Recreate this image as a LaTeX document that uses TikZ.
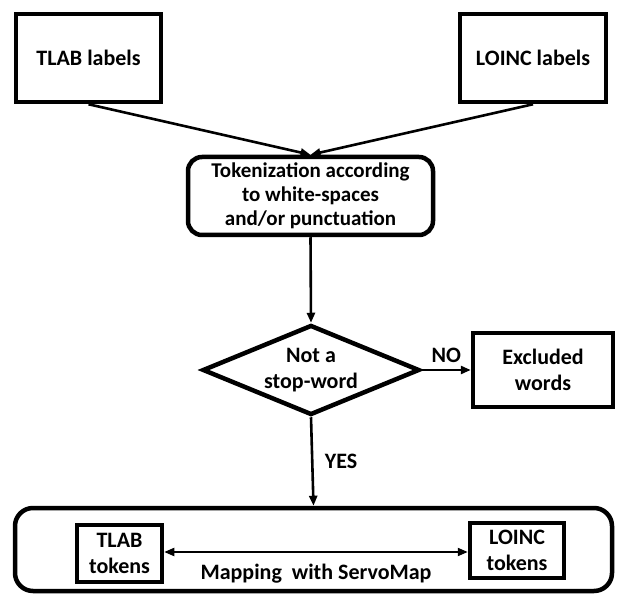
\documentclass[tikz,border=0pt]{standalone}
\usepackage{fontspec}
\setmainfont{Carlito}
\usetikzlibrary{shapes.geometric}
\usetikzlibrary{arrows.meta}
\usetikzlibrary{positioning}

\begin{document}
\begin{tikzpicture}[x=1pt, y=-1pt,
        font=\fontsize{22}{25.5}\selectfont\bfseries,
        box/.style={draw, line width=4.5pt, align=center, inner sep=0pt},
        roundbox/.style={box, rounded corners=14pt},
        decision/.style={draw, diamond, line width=4.5pt, align=center, inner sep=0pt, aspect=2.4},
        flow/.style={-{Triangle[length=10pt, width=8pt]}, line width=2.6pt}]
            \useasboundingbox (0,0) rectangle (617,593);

            % Labels
            \node[box, minimum width=145pt, minimum height=88pt] (tlab) at (88.5,58) {TLAB labels};
            \node[box, minimum width=146pt, minimum height=88pt] (loinc) at (533,58) {LOINC labels};

            % Tokenization
            \node[roundbox, minimum width=245pt, minimum height=78pt, font=\fontsize{21}{24}\selectfont\bfseries]
                (token) at (310.5,196) {Tokenization according\\to white-spaces\\and/or punctuation};

            % Stop-word test
            \node[decision, minimum width=217pt, minimum height=90pt] (stop) at (311,370) {Not a\\stop-word};
            \node[box, minimum width=140pt, minimum height=74pt] (excl) at (543,370) {Excluded\\words};

            % Mapping
            \node[roundbox, rounded corners=18pt, minimum width=597pt, minimum height=83pt] (map) at (313.5,549.5) {};
            \node[box, minimum width=85pt, minimum height=57pt] (tltok) at (119.5,553.5) {TLAB\\tokens};
            \node[box, minimum width=94pt, minimum height=55pt] (lotok) at (517,550.5) {LOINC\\tokens};

            % Arrows
            \draw[flow] (tlab.south) -- (token.north);
            \draw[flow] (loinc.south) -- (token.north);
            \draw[flow] (token.south) -- (stop.north);
            \draw[flow] (stop.east) -- (excl.west) node[midway, above=3pt] {NO};
            \draw[flow] (stop.south) -- (map.north) node[midway, right=8pt] {YES};
            \draw[flow, {Triangle[length=10pt, width=8pt]}-{Triangle[length=10pt, width=8pt]}, line width=2pt]
                (tltok.east |- 0,552) -- (lotok.west |- 0,552) node[midway, below=8pt] {Mapping\ \ with ServoMap};
        \end{tikzpicture}
\end{document}
